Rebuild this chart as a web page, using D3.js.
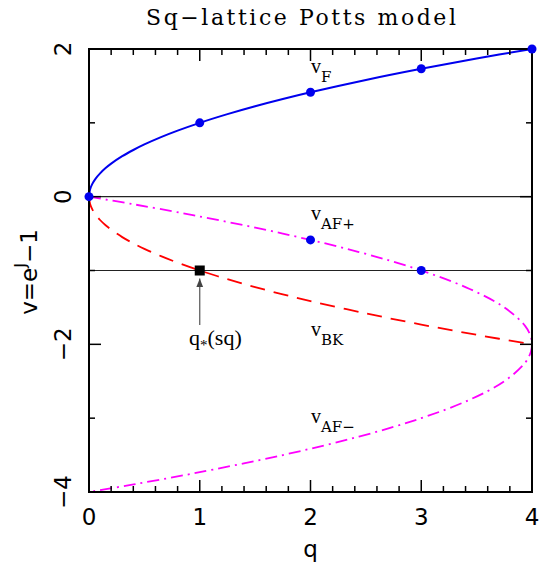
<!DOCTYPE html>
<html><head><meta charset="utf-8">
<script src="https://cdn.jsdelivr.net/npm/d3@7"></script>
<style>body{margin:0;background:#fff}</style>
</head><body>
<svg id="c" width="539" height="569"></svg>
<script>
// ---- data ----
const qF  = [0, 0.01, 0.03, 0.06, 0.1, 0.15, 0.2, 0.3, 0.4, 0.5, 0.65, 0.8, 1, 1.25, 1.5, 1.75, 2, 2.5, 3, 3.5, 4];
const vF  = [0, 0.1, 0.173, 0.245, 0.316, 0.387, 0.447, 0.548, 0.632, 0.707, 0.806, 0.894, 1, 1.118, 1.225, 1.323, 1.414, 1.581, 1.732, 1.871, 2];
const qBK = [0, 0.01, 0.03, 0.06, 0.1, 0.15, 0.2, 0.3, 0.4, 0.5, 0.65, 0.8, 1, 1.25, 1.5, 1.75, 2, 2.5, 3, 3.5, 4];
const vBK = [0, -0.1, -0.173, -0.245, -0.316, -0.387, -0.447, -0.548, -0.632, -0.707, -0.806, -0.894, -1, -1.118, -1.225, -1.323, -1.414, -1.581, -1.732, -1.871, -2];
const qAF = [0, 0.39, 0.9375, 1.75, 2.4375, 3, 3.4375, 3.75, 3.9375, 3.99, 4, 3.99, 3.9375, 3.75, 3.4375, 3, 2.4375, 1.75, 0.9375, 0.39, 0];
const vAF = [0, -0.1, -0.25, -0.5, -0.75, -1, -1.25, -1.5, -1.75, -1.9, -2, -2.1, -2.25, -2.5, -2.75, -3, -3.25, -3.5, -3.75, -3.9, -4];
const dotQ = [0, 1, 2, 3, 4, 2, 3];
const dotV = [0, 1, 1.414, 1.732, 2, -0.586, -1];
const refLines = [0, -1];
const starQ = 1, starV = -1;
const xTicks = [0, 1, 2, 3, 4];
const yTicks = [2, 0, -2, -4];
const yLabels = ["2", "0", "\u22122", "\u22124"];

// ---- layout ----
const svg = d3.select("#c");
const L = 89, R = 532, T = 49, B = 492;
const x = d3.scaleLinear().domain([0, 4]).range([L, R]);
const y = d3.scaleLinear().domain([-4, 2]).range([B, T]);
const ink = "#000";

// reference lines
svg.selectAll("line.ref").data(refLines).join("line")
  .attr("x1", x(0)).attr("x2", x(4)).attr("y1", d => y(d)).attr("y2", d => y(d))
  .attr("stroke", "#222").attr("stroke-width", 1.2);

const line = d3.line().x(d => x(d[0])).y(d => y(d[1])).curve(d3.curveCatmullRom.alpha(0.5));

svg.append("path").datum(qF.map((q, i) => [q, vF[i]]))
  .attr("d", line).attr("fill", "none").attr("stroke", "#0000ee").attr("stroke-width", 2);
svg.append("path").datum(qBK.map((q, i) => [q, vBK[i]]))
  .attr("d", line).attr("fill", "none").attr("stroke", "#ff0000").attr("stroke-width", 1.8)
  .attr("stroke-dasharray", "15,9");
svg.append("path").datum(qAF.map((q, i) => [q, vAF[i]]))
  .attr("d", line).attr("fill", "none").attr("stroke", "#ff00ff").attr("stroke-width", 1.8)
  .attr("stroke-dasharray", "12,5,2,5");

// axes frame with ticks
const frame = svg.append("g");
frame.append("rect").attr("x", L).attr("y", T).attr("width", R - L).attr("height", B - T)
  .attr("fill", "none").attr("stroke", ink).attr("stroke-width", 2);

const xMinor = d3.range(0, 4.0001, 0.2).map(v => +v.toFixed(2));
const yMinor = d3.range(-4, 2.0001, 1);
function len(major) { return major ? 12 : 6; }
xMinor.forEach(v => {
  const major = Math.abs(v - Math.round(v)) < 1e-6;
  frame.append("line").attr("x1", x(v)).attr("x2", x(v)).attr("y1", B).attr("y2", B - len(major))
    .attr("stroke", ink).attr("stroke-width", 1.5);
  frame.append("line").attr("x1", x(v)).attr("x2", x(v)).attr("y1", T).attr("y2", T + len(major))
    .attr("stroke", ink).attr("stroke-width", 1.5);
});
yMinor.forEach(v => {
  const major = v % 2 === 0;
  frame.append("line").attr("y1", y(v)).attr("y2", y(v)).attr("x1", L).attr("x2", L + len(major))
    .attr("stroke", ink).attr("stroke-width", 1.5);
  frame.append("line").attr("y1", y(v)).attr("y2", y(v)).attr("x1", R).attr("x2", R - len(major))
    .attr("stroke", ink).attr("stroke-width", 1.5);
});

// tick labels
svg.selectAll("text.xt").data(xTicks).join("text")
  .attr("x", d => x(d)).attr("y", 525).attr("text-anchor", "middle")
  .attr("font-family", "DejaVu Sans").attr("font-size", 23).text(d => d);
svg.selectAll("text.yt").data(yTicks).join("text")
  .attr("transform", d => `translate(${71},${y(d)}) rotate(-90)`).attr("text-anchor", "middle")
  .attr("font-family", "DejaVu Sans").attr("font-size", 23).text((d, i) => yLabels[i]);

// axis titles
svg.append("text").attr("x", x(2)).attr("y", 557).attr("text-anchor", "middle")
  .attr("font-family", "DejaVu Sans").attr("font-size", 23).text("q");
const yt = svg.append("text").attr("transform", "translate(37,272) rotate(-90)").attr("text-anchor", "middle")
  .attr("font-family", "DejaVu Sans").attr("font-size", 23);
yt.append("tspan").text("v=e");
yt.append("tspan").attr("dy", -11).attr("font-size", 16).text("J");
yt.append("tspan").attr("dy", 11).text("\u22121");

// title
svg.append("text").attr("x", 146).attr("y", 25)
  .attr("font-family", "DejaVu Serif").attr("font-size", 22)
  .attr("textLength", 310).attr("lengthAdjust", "spacing").text("Sq\u2212lattice Potts model");

// curve labels
function lab(tx, ty, sub) {
  const t = svg.append("text").attr("x", tx).attr("y", ty)
    .attr("font-family", "Liberation Serif").attr("font-size", 20);
  t.append("tspan").text("v");
  t.append("tspan").attr("dy", 9).attr("font-family", "DejaVu Serif").attr("font-size", 15).text(sub);
}
lab(311, 73, "F");
lab(311, 220, "AF+");
lab(311, 336, "BK");
lab(311, 423, "AF\u2212");

// dots
svg.selectAll("circle.d").data(dotQ).join("circle")
  .attr("cx", d => x(d)).attr("cy", (d, i) => y(dotV[i])).attr("r", 4.5).attr("fill", "#0000ee");

// star point
svg.append("rect").attr("x", x(starQ) - 5).attr("y", y(starV) - 5).attr("width", 10).attr("height", 10).attr("fill", "#000");
svg.append("defs").append("marker").attr("id", "ah").attr("viewBox", "0 0 10 10").attr("refX", 10).attr("refY", 5)
  .attr("markerWidth", 7).attr("markerHeight", 7).attr("orient", "auto")
  .append("path").attr("d", "M0,1 L10,5 L0,9 Z").attr("fill", "#444");
svg.append("line").attr("x1", x(starQ)).attr("x2", x(starQ)).attr("y1", 325).attr("y2", y(starV) + 8)
  .attr("stroke", "#555").attr("stroke-width", 1.2).attr("marker-end", "url(#ah)");
const qs = svg.append("text").attr("x", 189).attr("y", 345)
  .attr("font-family", "Liberation Serif").attr("font-size", 22);
qs.append("tspan").text("q");
qs.append("tspan").attr("dy", 5).attr("font-size", 15).text("*");
qs.append("tspan").attr("dy", -5).text("(sq)");
</script>
</body></html>
